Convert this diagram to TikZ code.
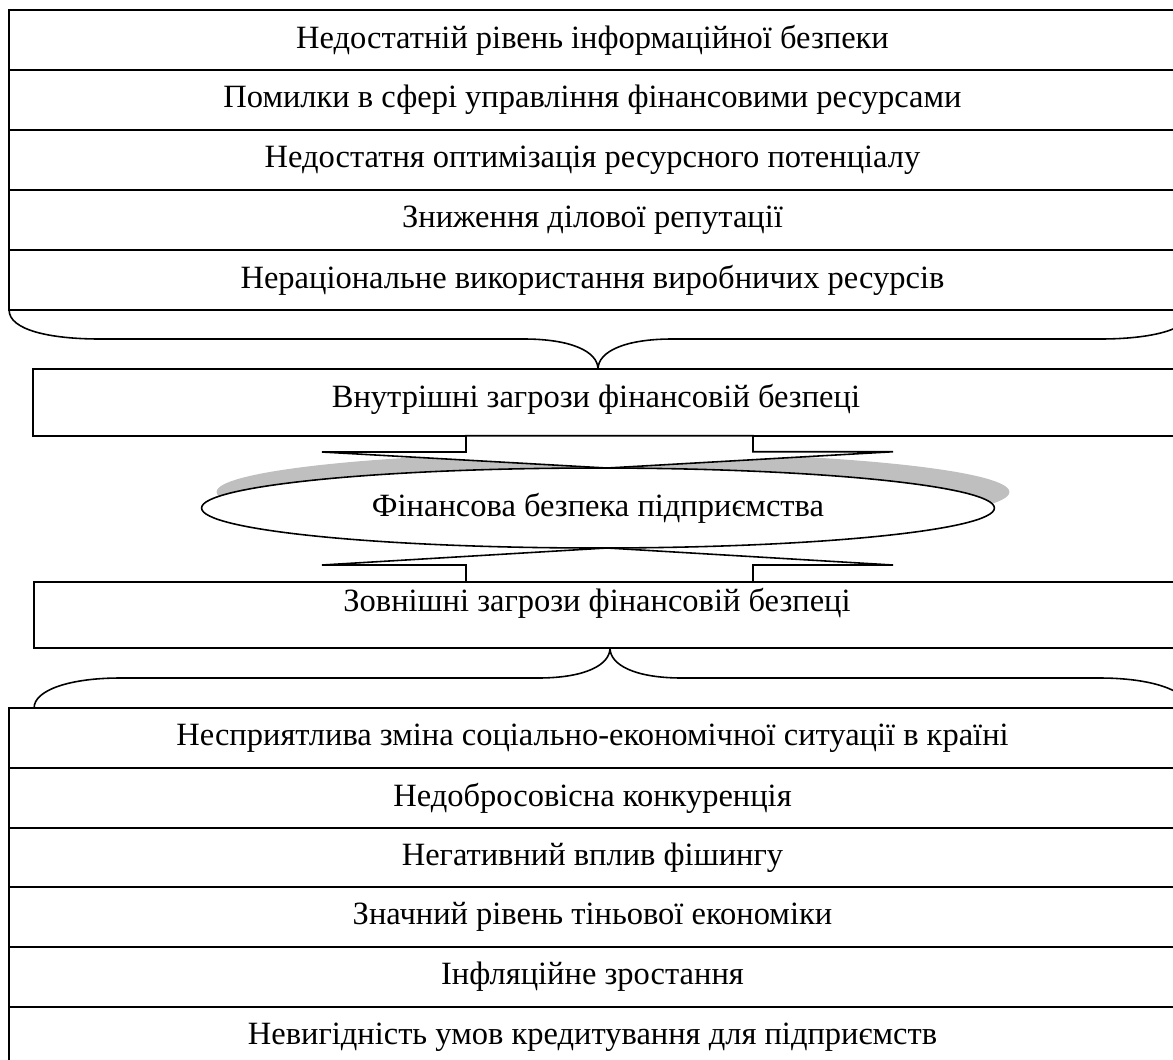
\documentclass[tikz,border=0pt]{standalone}
\usepackage{fontspec}
\setmainfont{Liberation Serif}
\usetikzlibrary{shapes,shadows}

\tikzset{
	rowbox/.style={draw,rectangle,minimum width=23.34cm,minimum height=1.2cm,inner sep=0pt,outer sep=0pt,font=\fontsize{18.5}{22}\selectfont},
	threatbox/.style={draw,rectangle,minimum width=22.84cm,minimum height=1.33cm,inner sep=0pt,outer sep=0pt},
	label/.style={font=\fontsize{18.5}{22}\selectfont},
	blockarr/.style={draw,fill=white,line join=miter},
}

\begin{document}
\begin{tikzpicture}[x=0.02cm,y=-0.02cm,line width=0.9pt]
		\useasboundingbox (0,0) rectangle (1173,1059);
		\node[rowbox] (t1) at (592.5,40) {Недостатній рівень інформаційної безпеки};
		\node[rowbox] (t2) at (592.5,100) {Помилки в сфері управління фінансовими ресурсами};
		\node[rowbox] (t3) at (592.5,160) {Недостатня оптимізація ресурсного потенціалу};
		\node[rowbox] (t4) at (592.5,220) {Зниження ділової репутації};
		\node[rowbox] (t5) at (592.5,280) {Нераціональне використання виробничих ресурсів};
		\node[threatbox] (vnutr) at (604,402.5) {};
		\node[label] (vnutrtxt) at (596,399) {Внутрішні загрози фінансовій безпеці};
		\node[ellipse,draw,fill=white,minimum width=15.86cm,minimum height=1.6cm,inner sep=0pt,outer sep=0pt,label,
			drop shadow={shadow xshift=0.3cm,shadow yshift=0.32cm,fill=gray!50,opacity=1}] (fb) at (598,508) {Фінансова безпека підприємства};
		\node[threatbox,minimum height=1.32cm] (zovn) at (605,615) {};
		\node[label] (zovntxt) at (597,603) {Зовнішні загрози фінансовій безпеці};
		\node[rowbox] (b1) at (592.5,738) {Несприятлива зміна соціально-економічної ситуації в країні};
		\node[rowbox] (b2) at (592.5,798) {Недобросовісна конкуренція};
		\node[rowbox] (b3) at (592.5,857.5) {Негативний вплив фішингу};
		\node[rowbox] (b4) at (592.5,917) {Значний рівень тіньової економіки};
		\node[rowbox] (b5) at (592.5,977) {Інфляційне зростання};
		\node[rowbox] (b6) at (592.5,1037) {Невигідність умов кредитування для підприємств};
		% braces
		\draw (t5.south west) .. controls (9,330) and (50,339) .. (100,339) -- (524,339)
			.. controls (570,339) and (598,351) .. (vnutr.north -| 598,0);
		\draw (vnutr.north -| 598,0) .. controls (598,351) and (626,339) .. (672,339) -- (1100,339)
			.. controls (1150,339) and (1191,330) .. (1191,310);
		\draw (zovn.south west |- b1.north) .. controls (34,690) and (70,678) .. (120,678) -- (538,678)
			.. controls (585,678) and (610,665) .. (zovn.south -| 610,0);
		\draw (zovn.south -| 610,0) .. controls (610,665) and (635,678) .. (682,678) -- (1100,678)
			.. controls (1150,678) and (1188,690) .. (1188,708);
		% block arrows
		\draw[blockarr] ([xshift=0.18cm]fb.north) -- ++(-285,-16) -- ++(144,0) -- (vnutr.south -| 466,0)
			-- (vnutr.south -| 753,0) -- ++(0,16) -- ++(140,0) -- cycle;
		\draw[blockarr] ([xshift=0.18cm]fb.south) -- ++(-285,17) -- ++(144,0) -- (zovn.north -| 466,0)
			-- (zovn.north -| 753,0) -- ++(0,-17) -- ++(140,0) -- cycle;
\end{tikzpicture}
\end{document}
